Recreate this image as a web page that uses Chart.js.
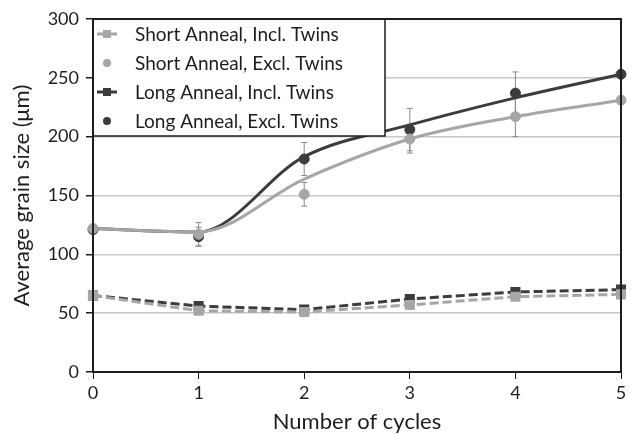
<!DOCTYPE html>
<html lang="en">
  <head>
    <meta charset="UTF-8" />
    <title>Average grain size</title>
    <script src="https://cdn.jsdelivr.net/npm/chart.js@4.4.0/dist/chart.umd.min.js"></script>
    <style>
      html, body { margin: 0; padding: 0; background: #fff; }
      #wrap { width: 631px; height: 435px; }
    </style>
  </head>
  <body>
    <div id="wrap"><canvas id="chart"></canvas></div>
    <script>
      var cycles = ['0', '1', '2', '3', '4', '5'];

      var shortIncl = [65, 52, 51, 57, 64, 66];
      var longIncl = [65, 56, 53, 62, 68, 70];

      var shortExcl = [122, 117, 151, 198, 217, 231];
      var shortExclErr = [3, 10, 10, 12, 17, 0];
      var longExcl = [121, 115, 181, 206, 237, 253];
      var longExclErr = [3, 8, 14, 18, 18, 0];

      // smoothed trend curves drawn through the excl. twins data
      var shortFit = [122, 119, 164, 198, 217, 231];
      var longFit = [122, 119, 183, 210, 233, 253];

      var light = '#a6a6a6';
      var dark = '#3c3c3c';
      var ink = '#1e1e1e';
      var fontFamily = 'Lato, "Open Sans", sans-serif';

      var legendItems = [
        { text: 'Short Anneal, Incl. Twins', color: light, line: true, square: true },
        { text: 'Short Anneal, Excl. Twins', color: light, line: false, square: false },
        { text: 'Long Anneal, Incl. Twins', color: dark, line: true, square: true },
        { text: 'Long Anneal, Excl. Twins', color: dark, line: false, square: false }
      ];

      var errorBars = {
        id: 'errorBars',
        beforeDatasetsDraw(chart) {
          const ctx = chart.ctx;
          const y = chart.scales.y;
          [[2, shortExclErr], [3, longExclErr]].forEach(([idx, errs]) => {
            const meta = chart.getDatasetMeta(idx);
            const vals = chart.data.datasets[idx].data;
            ctx.save();
            ctx.strokeStyle = '#8a8a8a';
            ctx.lineWidth = 1;
            meta.data.forEach((pt, i) => {
              if (!errs[i]) return;
              const top = y.getPixelForValue(vals[i] + errs[i]);
              const bot = y.getPixelForValue(vals[i] - errs[i]);
              ctx.beginPath();
              ctx.moveTo(pt.x, top);
              ctx.lineTo(pt.x, bot);
              ctx.moveTo(pt.x - 3, top);
              ctx.lineTo(pt.x + 3, top);
              ctx.moveTo(pt.x - 3, bot);
              ctx.lineTo(pt.x + 3, bot);
              ctx.stroke();
            });
            ctx.restore();
          });
        }
      };

      var frameAndLegend = {
        id: 'frameAndLegend',
        afterDraw(chart) {
          const ctx = chart.ctx;
          const a = chart.chartArea;
          ctx.save();
          // legend box
          const bx = a.left, by = a.top, bw = 292, bh = 117;
          ctx.fillStyle = '#fff';
          ctx.fillRect(bx, by, bw, bh);
          ctx.strokeStyle = ink;
          ctx.lineWidth = 1.5;
          ctx.strokeRect(bx, by, bw, bh);
          ctx.font = '19px ' + fontFamily;
          ctx.textBaseline = 'middle';
          legendItems.forEach((item, i) => {
            const cy = by + 15 + i * 29;
            const mx = bx + 14;
            ctx.fillStyle = item.color;
            ctx.strokeStyle = item.color;
            if (item.line) {
              ctx.lineWidth = 3;
              ctx.beginPath();
              ctx.moveTo(mx - 10, cy);
              ctx.lineTo(mx + 10, cy);
              ctx.stroke();
            }
            if (item.square) {
              ctx.fillRect(mx - 4, cy - 4, 8, 8);
            } else {
              ctx.beginPath();
              ctx.arc(mx, cy, 4, 0, Math.PI * 2);
              ctx.fill();
            }
            ctx.fillStyle = ink;
            ctx.fillText(item.text, bx + 42, cy + 1);
          });
          // plot frame
          ctx.strokeStyle = ink;
          ctx.lineWidth = 2;
          ctx.strokeRect(a.left, a.top, a.right - a.left, a.bottom - a.top);
          ctx.restore();
        }
      };

      new Chart(document.getElementById('chart'), {
        type: 'line',
        data: {
          labels: cycles,
          datasets: [
            {
              label: 'Short Anneal, Incl. Twins',
              data: shortIncl,
              borderColor: light,
              backgroundColor: light,
              borderWidth: 3,
              borderDash: [9, 4],
              pointStyle: 'rect',
              pointRadius: 5,
              tension: 0
            },
            {
              label: 'Long Anneal, Incl. Twins',
              data: longIncl,
              borderColor: dark,
              backgroundColor: dark,
              borderWidth: 3,
              borderDash: [9, 4],
              pointStyle: 'rect',
              pointRadius: 5,
              tension: 0
            },
            {
              label: 'Short Anneal, Excl. Twins',
              data: shortExcl,
              showLine: false,
              borderColor: light,
              backgroundColor: light,
              pointRadius: 5
            },
            {
              label: 'Long Anneal, Excl. Twins',
              data: longExcl,
              showLine: false,
              borderColor: dark,
              backgroundColor: dark,
              pointRadius: 5
            },
            {
              label: 'Short fit',
              data: shortFit,
              borderColor: light,
              borderWidth: 3,
              pointRadius: 0,
              cubicInterpolationMode: 'monotone'
            },
            {
              label: 'Long fit',
              data: longFit,
              borderColor: dark,
              borderWidth: 3,
              pointRadius: 0,
              cubicInterpolationMode: 'monotone'
            }
          ]
        },
        options: {
          responsive: true,
          maintainAspectRatio: false,
          animation: false,
          layout: { padding: { top: 19, right: 10, left: 9, bottom: 0 } },
          plugins: {
            legend: { display: false },
            tooltip: { enabled: false }
          },
          scales: {
            x: {
              offset: false,
              afterFit: (scale) => { scale.height = 63; },
              grid: { drawOnChartArea: false, tickColor: ink, tickLength: 7 },
              border: { color: ink, width: 2 },
              ticks: { color: ink, font: { family: fontFamily, size: 18 }, padding: 3 },
              title: {
                display: true,
                text: 'Number of cycles',
                color: ink,
                font: { family: fontFamily, size: 22 },
                padding: { top: 0, bottom: 0 }
              }
            },
            y: {
              min: 0,
              max: 300,
              afterFit: (scale) => { scale.width = 84; },
              ticks: { stepSize: 50, color: ink, font: { family: fontFamily, size: 18 }, padding: 7 },
              grid: { color: '#c8c8c8', lineWidth: 1.5, tickColor: ink, tickLength: 7 },
              border: { color: ink, width: 2 },
              title: {
                display: true,
                text: 'Average grain size (μm)',
                color: ink,
                font: { family: fontFamily, size: 22 },
                padding: { top: 0, bottom: 0 }
              }
            }
          }
        },
        plugins: [errorBars, frameAndLegend]
      });
    </script>
  </body>
</html>
